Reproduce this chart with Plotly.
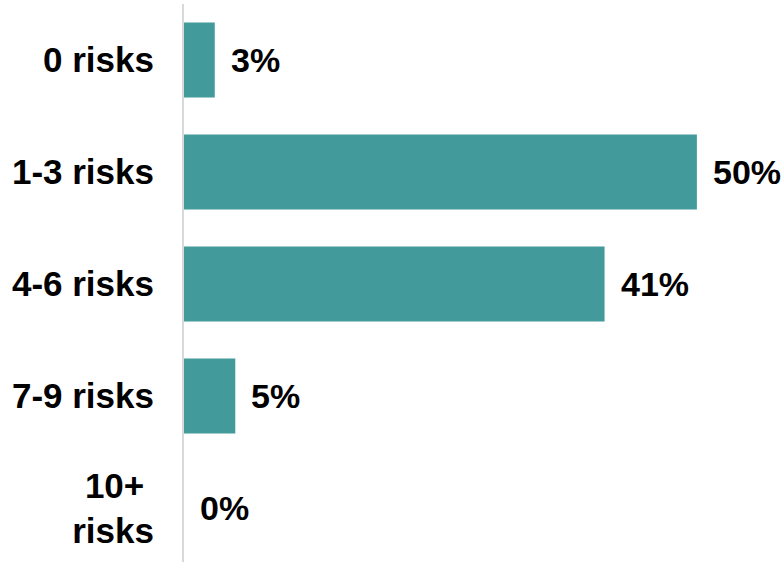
import plotly.graph_objects as go

categories = ["0 risks", "1-3 risks", "4-6 risks", "7-9 risks", "10+ risks"]
tick_labels = ["0 risks", "1-3 risks", "4-6 risks", "7-9 risks", "10+\u00a0<br>risks"]
shares = [3, 50, 41, 5, 0]
value_labels = ["3%", "50%", "41%", "5%", "0%"]

BAR_COLOR = "#429a9a"
FONT = "Liberation Sans, Arial, sans-serif"

fig = go.Figure(
    go.Bar(
        x=shares,
        y=categories,
        orientation="h",
        marker=dict(color=BAR_COLOR, line=dict(width=0)),
        width=0.67,
        hoverinfo="skip",
    )
)

for cat, val, lab in zip(categories, shares, value_labels):
    fig.add_annotation(
        x=val, y=cat, text=f"<b>{lab}</b>",
        xanchor="left", yanchor="middle", xshift=14,
        showarrow=False,
        font=dict(family=FONT, size=34, color="#000000"),
    )

fig.update_layout(
    width=781, height=562,
    margin=dict(l=184, r=0, t=4, b=0),
    plot_bgcolor="white", paper_bgcolor="white",
    showlegend=False,
    xaxis=dict(range=[0, 58.2], visible=False, fixedrange=True),
    yaxis=dict(
        categoryorder="array", categoryarray=categories,
        range=[4.482, -0.5],
        tickvals=categories,
        ticktext=[f"<b>{t}</b>" for t in tick_labels],
        tickfont=dict(family=FONT, size=35, color="#000000"),
        showline=True, linecolor="#d9d9d9", linewidth=2,
        showgrid=False, zeroline=False,
        ticks="", ticklabelstandoff=21,
        fixedrange=True,
    ),
)

fig.write_html("out.html")
